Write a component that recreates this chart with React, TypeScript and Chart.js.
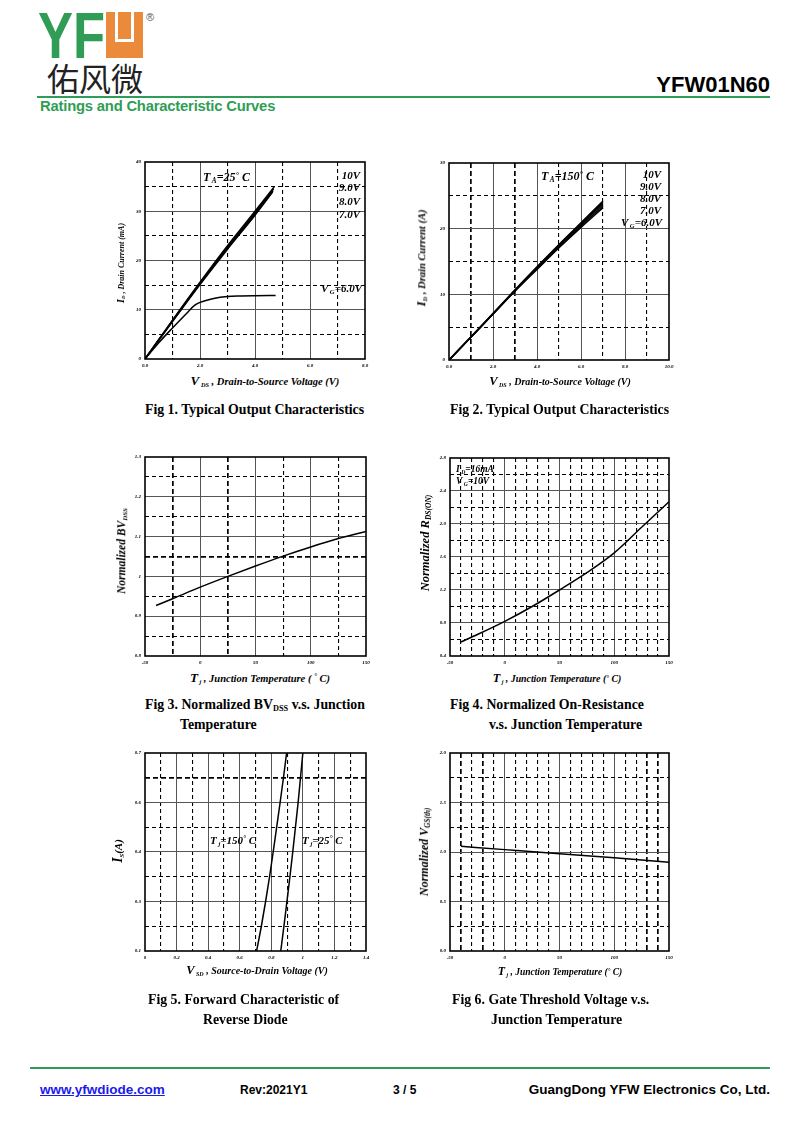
import React, { useEffect, useRef } from "react";
import { Chart, registerables } from "chart.js";
Chart.register(...registerables);

const SERIF = "'Times New Roman', 'Liberation Serif', 'DejaVu Serif', serif";
const SANS = "Arial, 'Liberation Sans', Helvetica, sans-serif";
const CJK = "'Noto Sans CJK SC', 'Noto Sans CJK TC', sans-serif";
const GREEN = "#2f9d55";
const ORANGE = "#ea8a3a";

// ---------- DATA ----------
const F1_10V_X = [0, 1, 2, 3, 4, 4.7];
const F1_10V_Y = [0, 7.9, 15.6, 23.0, 30.0, 35.0];
const F1_9V_X = [0, 1, 2, 3, 4, 4.68];
const F1_9V_Y = [0, 7.8, 15.4, 22.7, 29.7, 34.6];
const F1_8V_X = [0, 1, 2, 3, 4, 4.66];
const F1_8V_Y = [0, 7.7, 15.3, 22.5, 29.4, 34.2];
const F1_7V_X = [0, 1, 2, 3, 4, 4.64];
const F1_7V_Y = [0, 7.6, 15.1, 22.3, 29.2, 33.9];
const F1_6V_X = [0, 0.5, 1.0, 1.5, 1.8, 2.0, 2.5, 3.0, 3.5, 4.0, 4.75];
const F1_6V_Y = [0, 3.3, 6.3, 9.2, 10.9, 11.5, 12.3, 12.7, 12.8, 12.85, 12.9];
const F1_XTICKS = ["0.0", "2.0", "4.0", "6.0", "8.0"];
const F1_YTICKS = ["0", "10", "20", "30", "40"];

const F2_X = [0, 1, 2, 3, 4, 5, 6, 7];
const F2_10V_Y = [0, 3.5, 7.1, 10.7, 14.2, 17.6, 20.9, 24.2];
const F2_9V_Y = [0, 3.5, 7.0, 10.6, 14.1, 17.5, 20.8, 24.0];
const F2_8V_Y = [0, 3.5, 7.0, 10.6, 14.0, 17.4, 20.6, 23.8];
const F2_7V_Y = [0, 3.5, 7.0, 10.5, 13.9, 17.2, 20.4, 23.5];
const F2_6V_Y = [0, 3.5, 7.0, 10.5, 13.8, 17.1, 20.2, 23.2];
const F2_XTICKS = ["0.0", "2.0", "4.0", "6.0", "8.0", "10.0"];
const F2_YTICKS = ["0", "10", "20", "30"];

const F3_T = [-40, -25, 0, 25, 50, 75, 100, 125, 150];
const F3_BV = [0.927, 0.944, 0.973, 1.0, 1.026, 1.051, 1.074, 1.095, 1.113];
const F3_XTICKS = ["-50", "0", "50", "100", "150"];
const F3_YTICKS = ["0.8", "0.9", "1", "1.1", "1.2", "1.3"];

const F4_T = [-40, -25, 0, 25, 50, 75, 100, 125, 150];
const F4_R = [0.57, 0.66, 0.82, 1.0, 1.2, 1.41, 1.65, 1.96, 2.27];
const F4_XTICKS = ["-50", "0", "50", "100", "150"];
const F4_YTICKS = ["0.4", "0.8", "1.2", "1.6", "2.0", "2.4", "2.8"];

const F5_IS = [0.1, 0.175, 0.25, 0.325, 0.4, 0.475, 0.55, 0.625, 0.7];
const F5_VSD_150 = [0.707, 0.737, 0.764, 0.789, 0.812, 0.834, 0.856, 0.877, 0.897];
const F5_VSD_25 = [0.86, 0.88, 0.899, 0.918, 0.936, 0.953, 0.97, 0.985, 1.0];
const F5_XTICKS = ["0", "0.2", "0.4", "0.6", "0.8", "1", "1.2", "1.4"];
const F5_YTICKS = ["0.1", "0.3", "0.4", "0.6", "0.7"];

const F6_T = [-40, 0, 50, 100, 150];
const F6_V = [1.057, 1.024, 0.983, 0.943, 0.896];
const F6_XTICKS = ["-50", "0", "50", "100", "150"];
const F6_YTICKS = ["0.0", "0.5", "1.0", "1.5", "2.0"];

// ---------- CHART ----------
type Axis = { min: number; max: number; step: number; every: number; labels: string[]; bold: number[] };
type Series = { x: number[]; y: number[]; w?: number };
type PlotProps = { L: number; T: number; R: number; B: number; xa: Axis; ya: Axis; series: Series[] };

const PAD_L = 32, PAD_T = 8, PAD_R = 10, PAD_B = 14;

const tickValues = (a: Axis) => {
  const n = Math.round((a.max - a.min) / a.step);
  return Array.from({ length: n + 1 }, (_, i) => a.min + i * a.step);
};

function makeGridPlugin(xa: Axis, ya: Axis) {
  return {
    id: "dsgrid",
    beforeDatasetsDraw(chart: any) {
      const { ctx, chartArea } = chart;
      const { left, right, top, bottom } = chartArea;
      const drawAxis = (a: Axis, scale: any, isX: boolean) => {
        const vals = tickValues(a);
        const n = vals.length - 1;
        for (let i = 1; i < n; i++) {
          const solid = i % a.every === 0;
          const bold = a.bold.indexOf(i) >= 0;
          const w = solid ? 1 : bold ? 1.7 : 1.1;
          let p = scale.getPixelForValue(vals[i]);
          p = Math.round(p - w / 2) + w / 2;
          const on = bold ? 5 : 4;
          const off = 3;
          ctx.save();
          ctx.lineWidth = w;
          ctx.strokeStyle = solid ? "#555" : "#000";
          ctx.setLineDash([]);
          ctx.beginPath();
          if (isX) {
            if (solid) {
              ctx.moveTo(p, top);
              ctx.lineTo(p, bottom);
            } else {
              for (let s = top; s < bottom; s += on + off) {
                ctx.moveTo(p, s);
                ctx.lineTo(p, Math.min(s + on, bottom));
              }
            }
          } else {
            if (solid) {
              ctx.moveTo(left, p);
              ctx.lineTo(right, p);
            } else {
              for (let s = left; s < right; s += on + off) {
                ctx.moveTo(s, p);
                ctx.lineTo(Math.min(s + on, right), p);
              }
            }
          }
          ctx.stroke();
          ctx.restore();
        }
      };
      drawAxis(xa, chart.scales.x, true);
      drawAxis(ya, chart.scales.y, false);
      ctx.save();
      ctx.lineWidth = 1.6;
      ctx.strokeStyle = "#000";
      ctx.setLineDash([]);
      ctx.strokeRect(Math.round(left), Math.round(top), Math.round(right - left), Math.round(bottom - top));
      ctx.restore();
    },
  };
}

function axisOptions(a: Axis, isX: boolean): any {
  const vals = tickValues(a);
  const solid = (i: number) => i % a.every === 0;
  return {
    type: "linear",
    position: isX ? "bottom" : "left",
    min: a.min,
    max: a.max,
    afterBuildTicks: (s: any) => {
      s.ticks = vals.map((v) => ({ value: v }));
    },
    afterFit: (s: any) => {
      if (isX) s.height = PAD_B;
      else s.width = PAD_L;
    },
    ticks: {
      autoSkip: false,
      maxRotation: 0,
      padding: 4,
      color: "#000",
      font: { family: SERIF, size: 5, style: "italic", weight: "bold" },
      callback: (_v: any, i: number) => (solid(i) ? a.labels[i / a.every] : ""),
    },
    grid: { display: false, drawTicks: false },
    border: { display: false },
  };
}

function Plot(p: PlotProps) {
  const ref = useRef<HTMLCanvasElement>(null);
  const w = p.R - p.L + PAD_L + PAD_R;
  const h = p.B - p.T + PAD_T + PAD_B;
  useEffect(() => {
    const chart = new Chart(ref.current as HTMLCanvasElement, {
      type: "scatter",
      data: {
        datasets: p.series.map((s) => ({
          data: s.x.map((x, i) => ({ x, y: s.y[i] })),
          showLine: true,
          borderColor: "#000",
          backgroundColor: "#000",
          borderWidth: s.w ?? 1.5,
          pointRadius: 0,
          cubicInterpolationMode: "monotone",
          fill: false,
        })),
      } as any,
      options: {
        responsive: false,
        animation: false,
        devicePixelRatio: 1,
        events: [],
        layout: { padding: { left: 0, top: PAD_T, right: PAD_R, bottom: 0 } },
        plugins: { legend: { display: false }, tooltip: { enabled: false } },
        scales: { x: axisOptions(p.xa, true), y: axisOptions(p.ya, false) },
      } as any,
      plugins: [makeGridPlugin(p.xa, p.ya)],
    });
    return () => chart.destroy();
  }, []);
  return (
    <canvas
      ref={ref}
      width={w}
      height={h}
      style={{ position: "absolute", left: p.L - PAD_L, top: p.T - PAD_T, width: w, height: h }}
    />
  );
}

// ---------- TEXT HELPERS ----------
const Sub = ({ c }: { c: string }) => (
  <span style={{ fontSize: "0.6em", position: "relative", top: "0.3em" }}>{c}</span>
);
const Sup = ({ c }: { c: string }) => (
  <span style={{ fontSize: "0.7em", position: "relative", top: "-0.35em" }}>{c}</span>
);

const Txt = (props: { x?: number; r?: number; y: number; s: number; f?: string; b?: boolean; i?: boolean; c?: string; children: any; extra?: any }) => (
  <div
    style={{
      position: "absolute",
      left: props.x,
      right: props.r !== undefined ? 800 - props.r : undefined,
      top: props.y,
      fontSize: props.s,
      fontFamily: props.f ?? SERIF,
      fontWeight: props.b === false ? "normal" : "bold",
      fontStyle: props.i ? "italic" : "normal",
      color: props.c ?? "#000",
      lineHeight: 1,
      whiteSpace: "nowrap",
      ...(props.extra || {}),
    }}
  >
    {props.children}
  </div>
);

const YTitle = ({ x, y, s, children }: { x: number; y: number; s: number; children: any }) => (
  <div
    style={{
      position: "absolute",
      left: x,
      top: y,
      transform: "translate(-50%, -50%) rotate(-90deg)",
      fontFamily: SERIF,
      fontWeight: "bold",
      fontStyle: "italic",
      fontSize: s,
      lineHeight: 1,
      whiteSpace: "nowrap",
    }}
  >
    {children}
  </div>
);

const XTitle = ({ x, y, s, children }: { x: number; y: number; s: number; children: any }) => (
  <div
    style={{
      position: "absolute",
      left: x,
      top: y,
      transform: "translate(-50%, -50%)",
      fontFamily: SERIF,
      fontWeight: "bold",
      fontStyle: "italic",
      fontSize: s,
      lineHeight: 1,
      whiteSpace: "nowrap",
    }}
  >
    {children}
  </div>
);

const Big = ({ c }: { c: string }) => <span style={{ fontSize: "1.25em" }}>{c}</span>;

// ---------- AXES ----------
const AX1X: Axis = { min: 0, max: 8, step: 1, every: 2, labels: F1_XTICKS, bold: [] };
const AX1Y: Axis = { min: 0, max: 40, step: 5, every: 2, labels: F1_YTICKS, bold: [] };
const AX2X: Axis = { min: 0, max: 10, step: 1, every: 2, labels: F2_XTICKS, bold: [1, 3] };
const AX2Y: Axis = { min: 0, max: 30, step: 5, every: 2, labels: F2_YTICKS, bold: [] };
const AX3X: Axis = { min: -50, max: 150, step: 25, every: 2, labels: F3_XTICKS, bold: [1, 3] };
const AX3Y: Axis = { min: 0.8, max: 1.3, step: 0.05, every: 2, labels: F3_YTICKS, bold: [5] };
const AX4X: Axis = { min: -50, max: 150, step: 10, every: 5, labels: F4_XTICKS, bold: [] };
const AX4Y: Axis = { min: 0.4, max: 2.8, step: 0.2, every: 2, labels: F4_YTICKS, bold: [] };
const AX5X: Axis = { min: 0, max: 1.4, step: 0.1, every: 2, labels: F5_XTICKS, bold: [] };
const AX5Y: Axis = { min: 0.1, max: 0.7, step: 0.075, every: 2, labels: F5_YTICKS, bold: [7] };
const AX6X: Axis = { min: -50, max: 150, step: 10, every: 5, labels: F6_XTICKS, bold: [1, 3, 18, 19] };
const AX6Y: Axis = { min: 0, max: 2, step: 0.25, every: 2, labels: F6_YTICKS, bold: [] };

export default function App() {
  return (
    <div
      style={{
        position: "absolute",
        left: 0,
        top: 0,
        width: 800,
        height: 1130,
        overflow: "hidden",
        background: "#fff",
      }}
    >
      {/* Header */}
      <Txt x={38} y={4} s={64} f={SANS} c={GREEN} extra={{ transform: "scaleX(0.82)", transformOrigin: "left top" }}>
        YF
      </Txt>
      <div style={{ position: "absolute", left: 106, top: 12, width: 37, height: 46, background: ORANGE }}>
        <div
          style={{
            position: "absolute",
            left: 9,
            top: 0,
            width: 13,
            height: 27,
            borderLeft: "3px solid #fff",
            borderRight: "3px solid #fff",
            borderBottom: "3px solid #fff",
          }}
        />
      </div>
      <Txt x={146} y={12} s={11} f={SANS} b={false} c="#555">
        ®
      </Txt>
      <Txt x={47} y={61} s={32} f={CJK} b={false} c="#222">
        佑风微
      </Txt>
      <Txt r={770} y={74} s={22} f={SANS}>
        YFW01N60
      </Txt>
      <div style={{ position: "absolute", left: 37, top: 95.5, width: 733, height: 2.5, background: GREEN }} />
      <Txt x={40} y={99} s={14.8} f={SANS} c={GREEN} extra={{ letterSpacing: -0.2 }}>
        Ratings and Characteristic Curves
      </Txt>

      {/* Fig 1 */}
      <Plot
        L={145}
        T={162}
        R={365}
        B={359}
        xa={AX1X}
        ya={AX1Y}
        series={[
          { x: F1_10V_X, y: F1_10V_Y },
          { x: F1_9V_X, y: F1_9V_Y },
          { x: F1_8V_X, y: F1_8V_Y },
          { x: F1_7V_X, y: F1_7V_Y },
          { x: F1_6V_X, y: F1_6V_Y },
        ]}
      />
      <YTitle x={121} y={263} s={8}>
        <Big c="I" />
        <Sub c="D" /> , Drain Current (mA)
      </YTitle>
      <XTitle x={265} y={381} s={10.5}>
        <Big c="V" />
        <Sub c=" DS" /> , Drain-to-Source Voltage (V)
      </XTitle>
      <Txt x={203} y={171} s={12} i>
        T<Sub c=" A" />=25<Sup c="°" /> C
      </Txt>
      <Txt r={360} y={170} s={11} i>10V</Txt>
      <Txt r={360} y={182} s={11} i>9.0V</Txt>
      <Txt r={360} y={196} s={11} i>8.0V</Txt>
      <Txt r={360} y={209} s={11} i>7.0V</Txt>
      <Txt r={362} y={283} s={11} i>
        V<Sub c=" G" />=6.0V
      </Txt>

      {/* Fig 2 */}
      <Plot
        L={449}
        T={163}
        R={669}
        B={360}
        xa={AX2X}
        ya={AX2Y}
        series={[
          { x: F2_X, y: F2_10V_Y },
          { x: F2_X, y: F2_9V_Y },
          { x: F2_X, y: F2_8V_Y },
          { x: F2_X, y: F2_7V_Y },
          { x: F2_X, y: F2_6V_Y },
        ]}
      />
      <YTitle x={421} y={258} s={10.5}>
        <Big c="I" />
        <Sub c="D" /> , Drain Current (A)
      </YTitle>
      <XTitle x={560} y={381} s={10}>
        <Big c="V" />
        <Sub c=" DS" /> , Drain-to-Source Voltage (V)
      </XTitle>
      <Txt x={541} y={170} s={12} i>
        T<Sub c=" A" />=150<Sup c="°" /> C
      </Txt>
      <Txt r={661} y={169} s={11} i>10V</Txt>
      <Txt r={661} y={181} s={11} i>9.0V</Txt>
      <Txt r={661} y={193} s={11} i>8.0V</Txt>
      <Txt r={661} y={205} s={11} i>7.0V</Txt>
      <Txt r={662} y={217} s={11} i>
        V<Sub c=" G" />=6.0V
      </Txt>

      {/* Fig 3 */}
      <Plot L={145} T={457} R={366} B={656} xa={AX3X} ya={AX3Y} series={[{ x: F3_T, y: F3_BV }]} />
      <YTitle x={122} y={551} s={11.5}>
        Normalized BV<Sub c="DSS" />
      </YTitle>
      <XTitle x={260} y={678} s={10.5}>
        <Big c="T" />
        <Sub c=" j" /> , Junction Temperature ( <Sup c="°" /> C)
      </XTitle>

      {/* Fig 4 */}
      <Plot L={450} T={458} R={669} B={656} xa={AX4X} ya={AX4Y} series={[{ x: F4_T, y: F4_R }]} />
      <YTitle x={425} y={543} s={12.5}>
        Normalized R<Sub c="DS(ON)" />
      </YTitle>
      <XTitle x={557} y={678} s={9.8}>
        <Big c="T" />
        <Sub c=" j" /> , Junction Temperature (<Sup c="°" /> C)
      </XTitle>
      <Txt x={456} y={465} s={9.5} i>
        I<Sub c=" D" />=16mA
      </Txt>
      <Txt x={456} y={477} s={9.5} i>
        V<Sub c=" G" />=10V
      </Txt>

      {/* Fig 5 */}
      <Plot
        L={145}
        T={753}
        R={366}
        B={951}
        xa={AX5X}
        ya={AX5Y}
        series={[
          { x: F5_VSD_150, y: F5_IS },
          { x: F5_VSD_25, y: F5_IS },
        ]}
      />
      <YTitle x={118} y={851} s={11}>
        <Big c="I" />
        <Sub c="S" />
        (A)
      </YTitle>
      <XTitle x={257} y={970} s={10}>
        <Big c="V" />
        <Sub c=" SD" /> , Source-to-Drain Voltage (V)
      </XTitle>
      <Txt x={210} y={835} s={11} i>
        T<Sub c=" j" />=150<Sup c="°" /> C
      </Txt>
      <Txt x={302} y={835} s={11} i>
        T<Sub c=" j" />=25<Sup c="°" /> C
      </Txt>

      {/* Fig 6 */}
      <Plot L={450} T={753} R={669} B={951} xa={AX6X} ya={AX6Y} series={[{ x: F6_T, y: F6_V }]} />
      <YTitle x={424} y={852} s={12}>
        Normalized V<Sub c="GS(th)" />
      </YTitle>
      <XTitle x={560} y={972} s={9.5}>
        <Big c="T" />
        <Sub c=" j" /> , Junction Temperature (<Sup c="°" /> C)
      </XTitle>

      {/* Captions */}
      <Txt x={145} y={403} s={13.8}>Fig 1. Typical Output Characteristics</Txt>
      <Txt x={450} y={403} s={13.8}>Fig 2. Typical Output Characteristics</Txt>
      <Txt x={145} y={698} s={13.8}>
        Fig 3. Normalized BV<Sub c="DSS" />
        {"  "}v.s. Junction
      </Txt>
      <Txt x={180} y={718} s={13.8}>Temperature</Txt>
      <Txt x={450} y={698} s={13.8}>Fig 4. Normalized On-Resistance</Txt>
      <Txt x={489} y={718} s={13.8}>v.s. Junction Temperature</Txt>
      <Txt x={148} y={993} s={13.8}>Fig 5. Forward Characteristic of</Txt>
      <Txt x={203} y={1013} s={13.8}>Reverse Diode</Txt>
      <Txt x={452} y={993} s={13.8}>Fig 6. Gate Threshold Voltage v.s.</Txt>
      <Txt x={491} y={1013} s={13.8}>Junction Temperature</Txt>

      {/* Footer */}
      <div style={{ position: "absolute", left: 30, top: 1066.5, width: 740, height: 2.5, background: GREEN }} />
      <Txt x={40} y={1083} s={13.5} f={SANS} c="#1a1aee" extra={{ textDecoration: "underline" }}>
        www.yfwdiode.com
      </Txt>
      <Txt x={240} y={1084} s={12} f={SANS}>Rev:2021Y1</Txt>
      <Txt x={393} y={1084} s={12} f={SANS}>3 / 5</Txt>
      <Txt r={770} y={1083} s={13.5} f={SANS}>GuangDong YFW Electronics Co, Ltd.</Txt>
    </div>
  );
}
